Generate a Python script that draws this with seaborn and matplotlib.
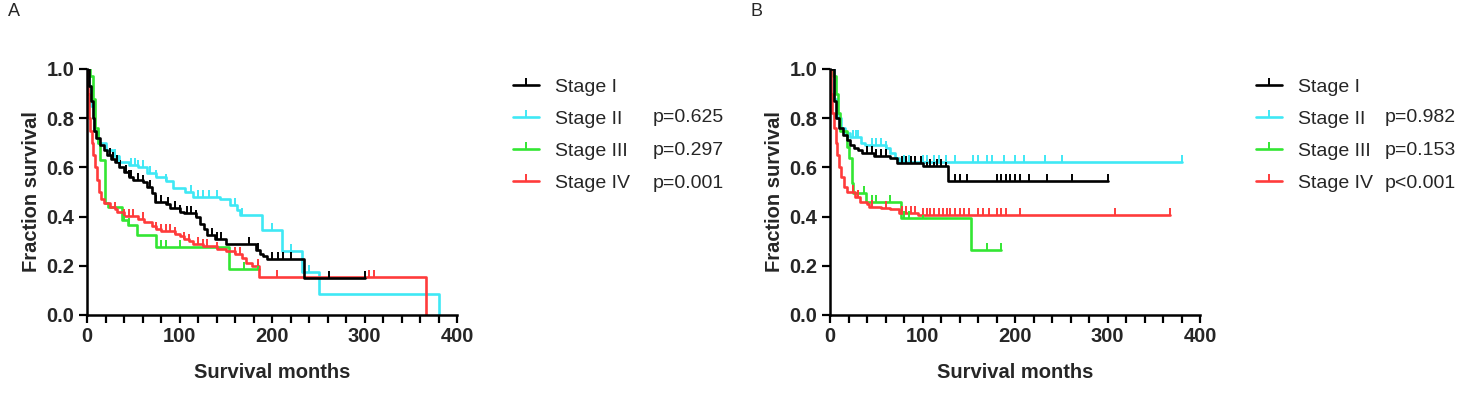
import numpy as np
import pandas as pd
import matplotlib
matplotlib.use("Agg")
import matplotlib.pyplot as plt
from matplotlib.lines import Line2D
from matplotlib.ticker import MultipleLocator
import seaborn as sns

# Kaplan-Meier curves: drop times (months) and survival after each drop
stages = ["Stage I", "Stage II", "Stage III", "Stage IV"]
colors = ["#000000", "#3FE8F5", "#33E633", "#FF3B3B"]

# ---- Panel A ----
a1_t = [0, 2, 4, 6, 8, 10, 14, 18, 22, 26, 30, 35, 40, 45, 50, 60, 65, 70, 73, 85, 90, 100, 105, 118, 122, 126, 130, 138, 150, 183, 187, 190, 195, 235, 300]
a1_s = [1.0, 0.93, 0.87, 0.80, 0.75, 0.72, 0.69, 0.67, 0.65, 0.635, 0.62, 0.60, 0.58, 0.56, 0.55, 0.54, 0.52, 0.495, 0.46, 0.45, 0.434, 0.42, 0.413, 0.40, 0.37, 0.35, 0.325, 0.31, 0.29, 0.265, 0.25, 0.24, 0.226, 0.149, 0.149]
a1_c = [25, 28, 32, 36, 42, 45, 48, 55, 60, 68, 75, 80, 88, 95, 100, 108, 112, 118, 135, 140, 145, 175, 185, 200, 207, 212, 220, 262, 300]

a2_t = [0, 2, 4, 8, 12, 20, 28, 35, 45, 55, 65, 75, 85, 93, 106, 115, 144, 155, 162, 165, 189, 211, 232, 251, 380]
a2_s = [1.0, 0.93, 0.85, 0.75, 0.70, 0.67, 0.646, 0.62, 0.61, 0.60, 0.576, 0.56, 0.545, 0.515, 0.50, 0.48, 0.47, 0.447, 0.427, 0.406, 0.345, 0.26, 0.176, 0.085, 0.0]
a2_c = [30, 35, 48, 52, 55, 60, 68, 75, 85, 112, 120, 125, 132, 140, 160, 168, 200, 220, 240]

a3_t = [0, 3, 6, 9, 12, 14, 19.5, 23, 38, 44, 54, 75, 153, 186]
a3_s = [1.0, 0.97, 0.88, 0.76, 0.70, 0.63, 0.455, 0.44, 0.385, 0.365, 0.325, 0.278, 0.185, 0.185]
a3_c = [40, 45, 80, 85, 100, 170, 185]

a4_t = [0, 1, 2, 3, 5, 7, 9, 11, 13, 15, 18, 25, 30, 32, 40, 55, 62, 70, 75, 80, 95, 100, 105, 110, 115, 125, 140, 150, 160, 168, 172, 178, 186, 367]
a4_s = [1.0, 0.90, 0.80, 0.75, 0.70, 0.65, 0.60, 0.55, 0.50, 0.47, 0.454, 0.44, 0.43, 0.42, 0.402, 0.39, 0.38, 0.36, 0.35, 0.34, 0.33, 0.32, 0.31, 0.30, 0.29, 0.28, 0.27, 0.26, 0.25, 0.23, 0.21, 0.20, 0.156, 0.0]
a4_c = [30, 40, 45, 50, 60, 75, 80, 85, 90, 95, 105, 110, 120, 125, 130, 140, 160, 165, 185, 205, 305, 310]

# ---- Panel B ----
b1_t = [0, 4, 7, 10, 14, 18, 22, 26, 30, 35, 48, 65, 72, 100, 128, 300]
b1_s = [1.0, 0.87, 0.80, 0.76, 0.73, 0.71, 0.69, 0.68, 0.67, 0.657, 0.646, 0.64, 0.617, 0.606, 0.546, 0.546]
b1_c = [40, 45, 50, 55, 60, 78, 82, 88, 92, 98, 105, 108, 112, 116, 120, 125, 135, 140, 148, 180, 185, 190, 195, 200, 205, 215, 235, 262, 300]

b2_t = [0, 4, 8, 12, 16, 22, 34, 38, 60, 65, 70, 75, 381]
b2_s = [1.0, 0.88, 0.80, 0.76, 0.74, 0.722, 0.70, 0.69, 0.68, 0.66, 0.64, 0.623, 0.623]
b2_c = [25, 28, 30, 45, 50, 55, 60, 80, 85, 100, 105, 112, 118, 125, 135, 155, 160, 170, 175, 188, 200, 210, 232, 251, 381]

b3_t = [0, 3, 6, 9, 11, 18, 20, 23.5, 25, 39, 76.5, 152, 185]
b3_s = [1.0, 0.97, 0.90, 0.82, 0.75, 0.684, 0.637, 0.535, 0.495, 0.46, 0.393, 0.264, 0.264]
b3_c = [37, 45, 50, 65, 80, 85, 100, 170, 185]

b4_t = [0, 1, 2, 4, 6, 8, 10, 12, 15, 18, 27, 32, 40, 42, 55, 65, 75, 95, 368]
b4_s = [1.0, 0.90, 0.82, 0.76, 0.70, 0.65, 0.60, 0.56, 0.52, 0.50, 0.48, 0.46, 0.45, 0.44, 0.435, 0.43, 0.415, 0.405, 0.405]
b4_c = [25, 30, 45, 60, 78, 82, 88, 92, 100, 105, 108, 112, 118, 122, 126, 130, 135, 140, 145, 150, 160, 165, 172, 180, 185, 190, 205, 308, 368]

pvals_a = ["", "p=0.625", "p=0.297", "p=0.001"]
pvals_b = ["", "p=0.982", "p=0.153", "p<0.001"]

panels = [
    ("A", [(a1_t, a1_s, a1_c), (a2_t, a2_s, a2_c), (a3_t, a3_s, a3_c), (a4_t, a4_s, a4_c)], pvals_a),
    ("B", [(b1_t, b1_s, b1_c), (b2_t, b2_s, b2_c), (b3_t, b3_s, b3_c), (b4_t, b4_s, b4_c)], pvals_b),
]

sns.set_theme(style="ticks")
plt.rcParams["font.family"] = ["Liberation Sans", "DejaVu Sans"]

W, H = 1477, 400
fig = plt.figure(figsize=(W / 100, H / 100), dpi=100)

ax_left_px = [87, 830]
p_col_px = [653, 1385]
letter_px = [8, 750]
rows_y = [85, 118, 151, 183]

for i, (letter, curves, pvals) in enumerate(panels):
    x0 = ax_left_px[i]
    ax = fig.add_axes([x0 / W, 1 - 315 / H, 370 / W, 246 / H])

    for (t, s, c), col, name in zip(curves, colors, stages):
        df = pd.DataFrame({"t": t, "s": s})
        sns.lineplot(data=df, x="t", y="s", ax=ax, color=col, lw=1.9,
                     drawstyle="steps-post", estimator=None, sort=False,
                     zorder=3 if col == "#000000" else 2)
        # censor ticks sit on the step curve
        tt = np.array(t, dtype=float)
        ss = np.array(s, dtype=float)
        idx = np.searchsorted(tt, np.array(c, dtype=float), side="right") - 1
        ax.plot(c, ss[idx], linestyle="none", marker=2, markersize=5,
                markeredgewidth=1.4, color=col, zorder=3)

    ax.set_xlim(0, 400)
    ax.set_ylim(0, 1.0)
    ax.xaxis.set_major_locator(MultipleLocator(100))
    ax.xaxis.set_minor_locator(MultipleLocator(20))
    ax.yaxis.set_major_locator(MultipleLocator(0.2))
    ax.yaxis.set_major_formatter(matplotlib.ticker.FormatStrFormatter("%.1f"))
    ax.tick_params(axis="both", which="both", direction="out", length=6,
                   width=1.6, color="black", labelsize=14.5, pad=3)
    for lab in ax.get_xticklabels() + ax.get_yticklabels():
        lab.set_fontweight("bold")
    for sp in ["left", "bottom"]:
        ax.spines[sp].set_linewidth(1.8)
        ax.spines[sp].set_color("black")
    sns.despine(ax=ax)
    ax.set_xlabel("Survival months", fontsize=14.5, fontweight="bold", labelpad=12)
    ax.set_ylabel("Fraction survival", fontsize=14.5, fontweight="bold", labelpad=4)
    ax.patch.set_alpha(0)

    handles = [Line2D([0], [0], color=col, lw=1.9, marker=2, markersize=5,
                      markeredgewidth=1.4) for col in colors]
    ax.legend(handles, stages, loc="upper left", frameon=False,
              bbox_to_anchor=((x0 + 426) / W, 1 - 78 / H),
              bbox_transform=fig.transFigure, fontsize=14,
              handlelength=1.35, handletextpad=0.8, labelspacing=0.75,
              borderpad=0, borderaxespad=0)
    for pv, ry in zip(pvals, rows_y):
        if pv:
            fig.text(p_col_px[i] / W, 1 - ry / H, pv, fontsize=14, va="center", ha="left")

    fig.text(letter_px[i] / W, 1 - 12 / H, letter, fontsize=13, va="center", ha="left")

fig.savefig("out.png", dpi=100)
